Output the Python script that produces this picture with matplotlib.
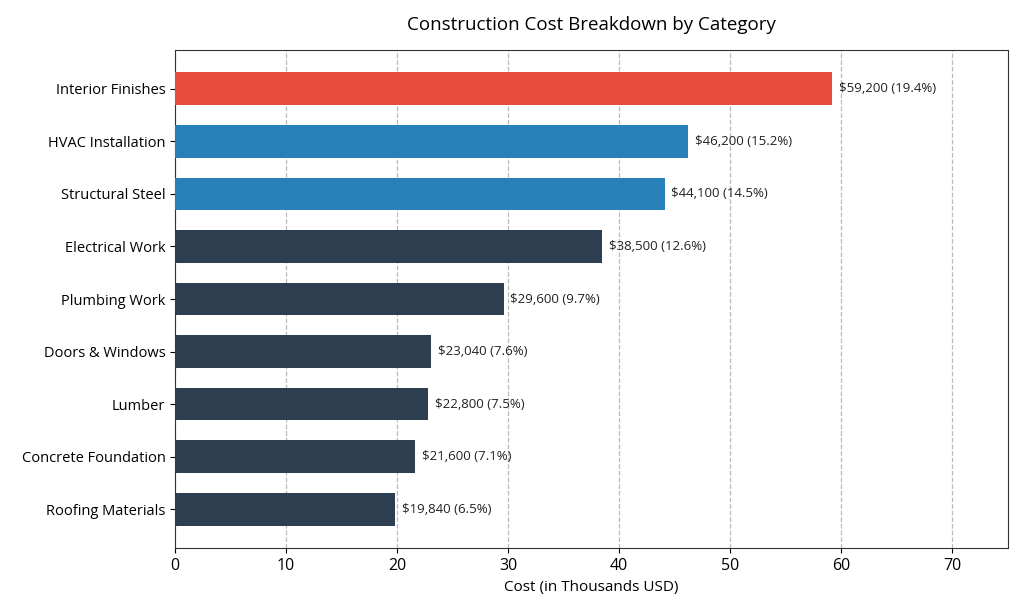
import matplotlib
matplotlib.use('Agg')
import matplotlib.pyplot as plt

plt.rcParams['font.family'] = ['Open Sans', 'DejaVu Sans']

categories = ['Roofing Materials', 'Concrete Foundation', 'Lumber', 'Doors & Windows',
              'Plumbing Work', 'Electrical Work', 'Structural Steel', 'HVAC Installation',
              'Interior Finishes']
costs = [19840, 21600, 22800, 23040, 29600, 38500, 44100, 46200, 59200]
colors = ['#2C3E50'] * 6 + ['#2980B9', '#2980B9', '#E74C3C']

total = sum(costs)

fig = plt.figure(figsize=(10.24, 6.14), dpi=100)
ax = fig.add_axes([0.171, 0.107, 0.813, 0.812])

vals = [c / 1000 for c in costs]
bars = ax.barh(categories, vals, color=colors, height=0.62, zorder=3)
for bar, c in zip(bars, costs):
    ax.text(bar.get_width() + 0.6, bar.get_y() + bar.get_height() / 2,
            f'${c:,} ({c / total * 100:.1f}%)', va='center', ha='left',
            fontsize=9.5, color='#222222')

ax.set_xlim(0, 75)
ax.set_xticks(range(0, 80, 10))
ax.tick_params(axis='x', labelsize=11.5)
ax.tick_params(axis='y', labelsize=10.5)
ax.xaxis.grid(True, linestyle='--', color='#bbbbbb', lw=0.9, zorder=0)
ax.set_xlabel('Cost (in Thousands USD)', fontsize=11)
ax.set_title('Construction Cost Breakdown by Category', fontsize=13.5, pad=14)
for sp in ax.spines.values():
    sp.set_color('#333333')

plt.savefig('out.png', dpi=100)
